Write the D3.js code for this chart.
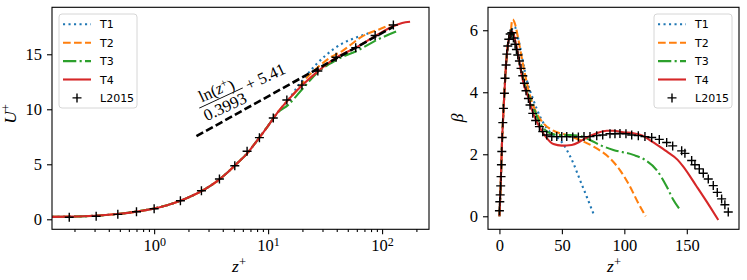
<!DOCTYPE html>
<head>
  <meta charset="utf-8">
  <style>
    body { margin: 0; background: #fff; }
  </style>
</head>
<body>
  <div id="chart"></div>
  <script src="https://d3js.org/d3.v7.min.js"></script>
  <script>

    var width = 747, height = 280;

    // ---- left panel data: U+ against z+ (log axis) ----
    // all four T runs sit on top of each other below z+ ~ 12
    var zNear = [0.127, 0.18, 0.3, 0.5, 0.7, 1, 1.3, 1.7, 2.2, 2.8, 3.5, 4.5, 5.5, 6.5, 8, 10, 12];
    var uNear = [0.22, 0.24, 0.32, 0.5, 0.7, 0.98, 1.28, 1.68, 2.18, 2.75, 3.4, 4.35, 5.2, 5.95, 7.15, 8.5, 9.65];

    var zT1 = [15, 18, 22.6, 31.6, 44.3, 62, 75.8];
    var uT1 = [10.85, 12.0, 13.3, 14.85, 15.95, 16.6, 16.9];
    var zT2 = [15, 17.3, 22, 27.6, 35, 44.3, 66.4, 99.4, 117];
    var uT2 = [10.85, 11.55, 12.9, 13.87, 14.7, 15.27, 16.6, 17.36, 17.66];
    var zT3 = [15, 20, 27.6, 40, 62, 90, 139];
    var uT3 = [10.4, 11.85, 13.42, 14.5, 15.38, 16.3, 17.15];
    var zT4 = [15, 20, 27.3, 39.5, 58.7, 86.9, 125, 150, 176];
    var uT4 = [10.85, 12.2, 13.45, 14.7, 15.6, 16.65, 17.55, 17.85, 17.96];

    var zRef = [0.18, 0.31, 0.48, 0.70, 1.0, 1.70, 2.60, 3.74, 5.1, 6.54, 8.39, 11.1, 14.6, 19.8, 27.3, 39.5, 58.7, 86.9, 125.6];
    var uRef = [0.18, 0.28, 0.45, 0.69, 0.96, 1.69, 2.6, 3.66, 4.87, 6.18, 7.42, 9.21, 10.84, 12.2, 13.48, 14.73, 15.6, 16.7, 17.66];

    // log law ln(z+)/0.3993 + 5.41, straight on the log axis
    var zLog = [2.35, 125];
    var uLog = [7.55, 17.5];

    // ---- right panel data: beta against z+ ----
    var zRise = [0, 1, 2, 3, 4, 5, 6, 7, 8, 9];
    var bRise = [0, 1.0, 2.3, 3.2, 4.0, 4.7, 5.25, 5.6, 5.8, 5.9];

    var zB1 = [10, 11, 12.5, 14, 16.5, 19, 21.9, 27.2, 32.5, 37.9, 43.2, 48.5, 53.9, 59.2, 64.5, 69.9, 75.7];
    var bB1 = [6.02, 6.12, 6.1, 5.9, 5.48, 4.95, 4.4, 3.75, 3.22, 2.84, 2.62, 2.46, 2.14, 1.71, 1.17, 0.63, 0.04];
    var zB2 = [10, 10.7, 12.5, 15.2, 19.2, 23.2, 28.5, 35.2, 43.2, 53.9, 64.5, 75.2, 88.5, 96.5, 104.5, 111.2, 117.1];
    var bB2 = [6.3, 6.35, 6.2, 5.69, 4.83, 4.08, 3.43, 3.0, 2.76, 2.62, 2.46, 2.25, 1.87, 1.49, 0.96, 0.42, 0];
    var zB3 = [9.9, 11.5, 13, 15, 17, 19.2, 22, 25.9, 32.5, 40.5, 48.5, 56.5, 64.5, 72.5, 80.5, 91.2, 107.2, 116.5, 125.9, 133.9, 139.2, 145.1];
    var bB3 = [5.88, 5.8, 5.55, 5.15, 4.75, 4.4, 4.02, 3.65, 3.0, 2.68, 2.62, 2.62, 2.59, 2.46, 2.3, 2.14, 1.98, 1.82, 1.49, 0.96, 0.53, 0.18];
    var zB4 = [9.9, 11.5, 13, 15, 17, 19.2, 23, 27.2, 32.5, 37.9, 43.2, 49.9, 57.9, 64.5, 69.9, 77.9, 85.9, 91.2, 99.2, 107.2, 115.2, 123.2, 133.9, 142.7, 147.2, 157.9, 168.5, 175.2];
    var bB4 = [5.96, 5.85, 5.6, 5.2, 4.75, 4.3, 3.85, 3.3, 2.85, 2.52, 2.33, 2.28, 2.3, 2.41, 2.54, 2.68, 2.76, 2.76, 2.71, 2.68, 2.59, 2.38, 2.09, 1.82, 1.6, 0.96, 0.31, -0.12];

    var zRefB = [0, 0.3, 0.6, 1.0, 1.3, 1.6, 1.9, 2.2, 2.7, 3.2, 4.0, 4.5, 5.3, 5.9, 6.7, 7.5, 8.6, 9.9, 11.2, 12.5, 13.6, 14.7, 16.0, 17.3, 18.7, 20.0, 21.3, 23.2, 24.5, 26.7, 29.0, 32.0, 34.7, 37.9, 41.9, 45.9, 49.9, 53.9, 58.7, 63.2, 67.7, 72.5, 77.9, 82.7, 88.5, 92.5, 96.5, 101.3, 105.9, 111.2, 116.5, 121.9, 128.0, 133.9, 138.7, 145.9, 148.5, 153.9, 156.5, 160.0, 163.2, 167.2, 171.2, 174.4, 177.9, 180.5, 183.2];
    var bRefB = [0.18, 0.47, 0.69, 0.98, 1.28, 1.66, 2.09, 2.54, 3.02, 3.48, 3.97, 4.45, 4.88, 5.23, 5.49, 5.71, 5.88, 5.92, 5.75, 5.55, 5.38, 5.2, 5.01, 4.77, 4.53, 4.29, 4.05, 3.8, 3.59, 3.32, 3.09, 2.89, 2.73, 2.62, 2.57, 2.57, 2.57, 2.57, 2.56, 2.56, 2.57, 2.57, 2.6, 2.62, 2.66, 2.66, 2.67, 2.66, 2.62, 2.6, 2.57, 2.54, 2.48, 2.38, 2.27, 2.11, 2.03, 1.8, 1.66, 1.53, 1.39, 1.2, 0.99, 0.77, 0.56, 0.37, 0.14];

    var names = ["T1", "T2", "T3", "T4"];
    var colors = ["#1f77b4", "#ff7f0e", "#2ca02c", "#d62728"];
    var dashes = ["2.1,3.4", "7.7,3.3", "13.3,3.3,2.1,3.3", null];

    var serif = "Liberation Serif, serif";
    var sans = "DejaVu Sans, sans-serif";

    var svg = d3.select("#chart").append("svg")
      .attr("width", width)
      .attr("height", height)
      .style("background", "#fff");

    var L = {x0: 52, x1: 429, y0: 7.3, y1: 229.3};
    var R = {x0: 488, x1: 739, y0: 7.3, y1: 229.3};

    var xL = d3.scaleLog().domain([0.127, 258]).range([L.x0, L.x1]);
    var yL = d3.scaleLinear().domain([-0.91, 19.27]).range([L.y1, L.y0]);
    var xR = d3.scaleLinear().domain([-9.15, 191.8]).range([R.x0, R.x1]);
    var yR = d3.scaleLinear().domain([-0.42, 6.74]).range([R.y1, R.y0]);

    var defs = svg.append("defs");
    [["clipL", L], ["clipR", R]].forEach(function (c) {
      defs.append("clipPath").attr("id", c[0]).append("rect")
        .attr("x", c[1].x0).attr("y", c[1].y0)
        .attr("width", c[1].x1 - c[1].x0).attr("height", c[1].y1 - c[1].y0);
    });

    function styleAxis(g) {
      g.select(".domain").remove();
      g.selectAll("line").attr("stroke", "#000").attr("stroke-width", 1.1);
      g.selectAll("text").attr("font-family", serif).attr("font-size", 16.5).attr("fill", "#000");
    }

    // ---------- left panel ----------
    var minor = [];
    [0.1, 1, 10, 100].forEach(function (p) {
      for (var k = 2; k <= 9; k++) minor.push(k * p);
    });
    minor = minor.filter(function (v) { return v > 0.127 && v < 258; });

    svg.append("g").attr("transform", "translate(0," + L.y1 + ")")
      .call(d3.axisBottom(xL).tickValues(minor).tickSize(2.8).tickFormat(""))
      .call(styleAxis);

    var gxL = svg.append("g").attr("transform", "translate(0," + L.y1 + ")")
      .call(d3.axisBottom(xL).tickValues([1, 10, 100]).tickSize(5).tickPadding(5))
      .call(styleAxis);
    gxL.selectAll("text").each(function (d) {
      var t = d3.select(this);
      t.text("10");
      t.append("tspan").attr("dy", "-0.42em").attr("font-size", 12).text(Math.round(Math.log10(d)));
    });

    svg.append("g").attr("transform", "translate(" + L.x0 + ",0)")
      .call(d3.axisLeft(yL).tickValues([0, 5, 10, 15]).tickSize(5).tickPadding(5))
      .call(styleAxis);

    var line = function (x, y) {
      return d3.line()
        .x(function (d) { return x(d[0]); })
        .y(function (d) { return y(d[1]); })
        .curve(d3.curveMonotoneX);
    };
    var lineL = line(xL, yL), lineR = line(xR, yR);

    var plotL = svg.append("g").attr("clip-path", "url(#clipL)");
    var tailsL = [[zT1, uT1], [zT2, uT2], [zT3, uT3], [zT4, uT4]];
    tailsL.forEach(function (t, i) {
      var pts = d3.zip(zNear.concat(t[0]), uNear.concat(t[1]));
      plotL.append("path")
        .attr("d", lineL(pts))
        .attr("fill", "none")
        .attr("stroke", colors[i])
        .attr("stroke-width", 2.1)
        .attr("stroke-dasharray", dashes[i]);
    });

    plotL.append("path")
      .attr("d", d3.line().x(function (d) { return xL(d[0]); }).y(function (d) { return yL(d[1]); })(d3.zip(zLog, uLog)))
      .attr("fill", "none")
      .attr("stroke", "#000")
      .attr("stroke-width", 2.6)
      .attr("stroke-dasharray", "7.7,3.3");

    function plus(g, pts, x, y) {
      g.selectAll(null).data(pts).enter().append("path")
        .attr("d", function (d) {
          var px = x(d[0]), py = y(d[1]);
          return "M" + (px - 4.5) + "," + py + "h9M" + px + "," + (py - 4.5) + "v9";
        })
        .attr("stroke", "#000")
        .attr("stroke-width", 1.4);
    }
    plus(plotL, d3.zip(zRef, uRef), xL, yL);

    // log-law label, tilted along the dashed line
    var ann = svg.append("g").attr("transform", "translate(221,98) rotate(-25)")
      .attr("font-family", serif).attr("font-size", 16.5).attr("fill", "#000");
    var num = ann.append("text").attr("x", -1).attr("y", -4).attr("text-anchor", "middle");
    num.append("tspan").text("ln(");
    num.append("tspan").attr("font-style", "italic").text("z");
    num.append("tspan").attr("dy", "-0.4em").attr("font-size", 11.5).text("+");
    num.append("tspan").attr("dy", "0.4em").text(")");
    ann.append("line").attr("x1", -24).attr("x2", 24).attr("y1", 0).attr("y2", 0)
      .attr("stroke", "#000").attr("stroke-width", 0.9);
    ann.append("text").attr("x", 0).attr("y", 15).attr("text-anchor", "middle").text("0.3993");
    ann.append("text").attr("x", 28).attr("y", 5).text("+ 5.41");

    // ---------- right panel ----------
    svg.append("g").attr("transform", "translate(0," + R.y1 + ")")
      .call(d3.axisBottom(xR).tickValues([0, 50, 100, 150]).tickSize(5).tickPadding(5))
      .call(styleAxis);
    svg.append("g").attr("transform", "translate(" + R.x0 + ",0)")
      .call(d3.axisLeft(yR).tickValues([0, 2, 4, 6]).tickSize(5).tickPadding(5))
      .call(styleAxis);

    var plotR = svg.append("g").attr("clip-path", "url(#clipR)");
    var tailsR = [[zB1, bB1], [zB2, bB2], [zB3, bB3], [zB4, bB4]];
    tailsR.forEach(function (t, i) {
      var pts = d3.zip(zRise.concat(t[0]), bRise.concat(t[1]));
      plotR.append("path")
        .attr("d", lineR(pts))
        .attr("fill", "none")
        .attr("stroke", colors[i])
        .attr("stroke-width", 2.1)
        .attr("stroke-dasharray", dashes[i]);
    });
    plus(plotR, d3.zip(zRefB, bRefB), xR, yR);

    // ---------- frames, labels, legends ----------
    [L, R].forEach(function (p) {
      svg.append("rect")
        .attr("x", p.x0).attr("y", p.y0)
        .attr("width", p.x1 - p.x0).attr("height", p.y1 - p.y0)
        .attr("fill", "none").attr("stroke", "#000").attr("stroke-width", 1.1);
    });

    function zLabel(cx) {
      var t = svg.append("text").attr("x", cx).attr("y", 272)
        .attr("text-anchor", "middle").attr("font-family", serif).attr("font-size", 17.5);
      t.append("tspan").attr("font-style", "italic").text("z");
      t.append("tspan").attr("dy", "-0.45em").attr("font-size", 12.5).text("+");
    }
    zLabel(239);
    zLabel(614);

    var uLab = svg.append("text")
      .attr("transform", "translate(16,114) rotate(-90)")
      .attr("text-anchor", "middle").attr("font-family", serif).attr("font-size", 17.5);
    uLab.append("tspan").attr("font-style", "italic").text("U");
    uLab.append("tspan").attr("dy", "-0.45em").attr("font-size", 12.5).text("+");

    svg.append("text")
      .attr("transform", "translate(463,118) rotate(-90)")
      .attr("text-anchor", "middle").attr("font-family", serif).attr("font-size", 17.5)
      .attr("font-style", "italic").text("β");

    function legend(x, y) {
      var g = svg.append("g").attr("transform", "translate(" + x + "," + y + ")");
      g.append("rect").attr("width", 78).attr("height", 94).attr("rx", 3)
        .attr("fill", "#fff").attr("fill-opacity", 0.8)
        .attr("stroke", "#d6d6d6").attr("stroke-width", 1);
      var rows = names.concat(["L2015"]);
      rows.forEach(function (name, i) {
        var cy = 10.3 + i * 18.4;
        if (i < 4) {
          g.append("line").attr("x1", 4).attr("x2", 32).attr("y1", cy).attr("y2", cy)
            .attr("stroke", colors[i]).attr("stroke-width", 2.1)
            .attr("stroke-dasharray", dashes[i]);
        } else {
          g.append("path").attr("d", "M13.5," + cy + "h9M18," + (cy - 4.5) + "v9")
            .attr("stroke", "#000").attr("stroke-width", 1.4);
        }
        g.append("text").attr("x", 41).attr("y", cy + 4)
          .attr("font-family", sans).attr("font-size", 11).text(name);
      });
    }
    legend(59, 14);
    legend(654, 14);

  </script>
</body>
